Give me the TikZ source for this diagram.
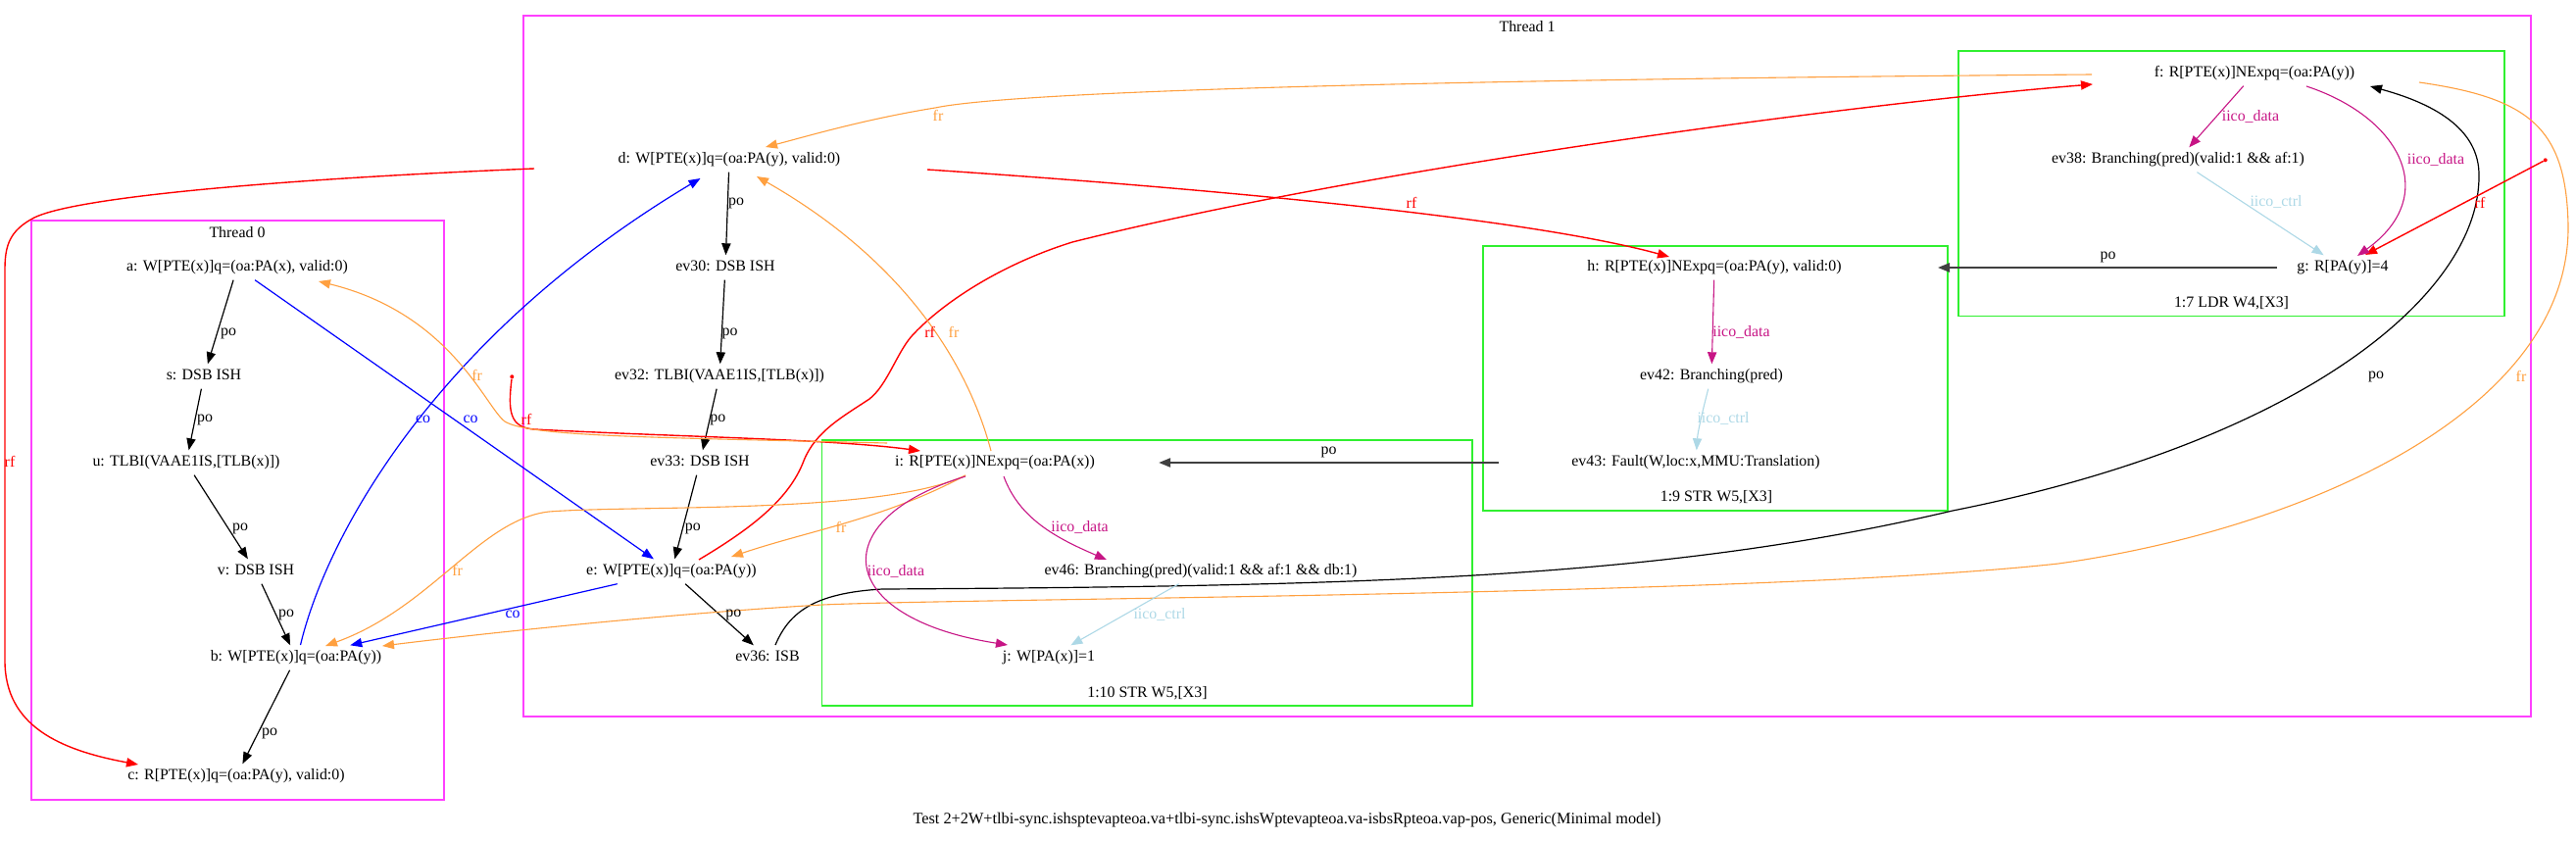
\documentclass[tikz,border=0pt]{standalone}
\usepackage{fontspec}
\setmainfont{Liberation Serif}
\usetikzlibrary{arrows.meta,calc}
\definecolor{tmag}{HTML}{FF40FF}
\definecolor{tgreen}{HTML}{30F030}
\definecolor{fro}{HTML}{FFA040}
\definecolor{idata}{HTML}{C71585}
\definecolor{ictrl}{HTML}{ADD8E6}
\tikzset{
  ev/.style={inner xsep=2pt, inner ysep=0pt, text height=5.4pt, text depth=1.6pt, minimum height=12.3pt},
  lbl/.style={inner sep=0pt},
  tbox/.style={draw=tmag, line width=0.8pt},
  gbox/.style={draw=tgreen, line width=0.8pt},
  tip/.style={-{Triangle[length=6pt,width=4.6pt]}},
  epo/.style={tip, draw=black, line width=0.6pt},
  epobold/.style={tip, draw=black!75, line width=0.95pt},
  erf/.style={tip, draw=red, line width=0.7pt},
  eco/.style={tip, draw=blue, line width=0.6pt},
  efr/.style={tip, draw=fro, line width=0.55pt},
  edata/.style={tip, draw=idata, line width=0.55pt},
  ectrl/.style={tip, draw=ictrl, line width=0.55pt},
  dotn/.style={circle, fill=red, inner sep=0pt, minimum size=2pt}
}
\begin{document}
\begin{tikzpicture}[x=0.5pt,y=-0.5pt,font=\fontsize{7.95}{9}\selectfont]
\useasboundingbox (0,0) rectangle (2628,857);
% clusters
\draw[tbox] (32,225) rectangle (453,816);
\node[lbl] (T0) at (242,237) {Thread 0};
\draw[tbox] (534,16) rectangle (2582,731);
\node[lbl] (T1) at (1558,27.5) {Thread 1};
\draw[gbox] (1998,52) rectangle (2555,322.5);
\node[lbl] (B7) at (2276.5,309) {1:7 LDR W4,[X3]};
\draw[gbox] (1513,251) rectangle (1987,521);
\node[lbl] (B9) at (1751,507) {1:9 STR W5,[X3]};
\draw[gbox] (838.5,449) rectangle (1502,720);
\node[lbl] (B10) at (1170.5,707) {1:10 STR W5,[X3]};
% thread 0 nodes
\node[ev] (a) at (242,273) {a: W[PTE(x)]q=(oa:PA(x), valid:0)};
\node[ev] (s) at (208,384) {s: DSB ISH};
\node[ev] (u) at (190,472) {u: TLBI(VAAE1IS,[TLB(x)])};
\node[ev] (v) at (261,583) {v: DSB ISH};
\node[ev] (b) at (302,671) {b: W[PTE(x)]q=(oa:PA(y))};
\node[ev] (c) at (241,792) {c: R[PTE(x)]q=(oa:PA(y), valid:0)};
% thread 1 nodes
\node[ev] (d) at (744,163) {d: W[PTE(x)]q=(oa:PA(y), valid:0)};
\node[ev] (ev30) at (740,273) {ev30: DSB ISH};
\node[ev] (ev32) at (734,384) {ev32: TLBI(VAAE1IS,[TLB(x)])};
\node[ev] (ev33) at (714,472) {ev33: DSB ISH};
\node[ev] (e) at (685,583) {e: W[PTE(x)]q=(oa:PA(y))};
\node[ev] (ev36) at (783,671) {ev36: ISB};
\node[ev] (i) at (1015,472) {i: R[PTE(x)]NExpq=(oa:PA(x))};
\node[ev] (ev46) at (1225,583) {ev46: Branching(pred)(valid:1 \&\& af:1 \&\& db:1)};
\node[ev] (j) at (1070,671) {j: W[PA(x)]=1};
\node[ev] (h) at (1749,273) {h: R[PTE(x)]NExpq=(oa:PA(y), valid:0)};
\node[ev] (ev42) at (1746,384) {ev42: Branching(pred)};
\node[ev] (ev43) at (1730,472) {ev43: Fault(W,loc:x,MMU:Translation)};
\node[ev] (f) at (2300,75) {f: R[PTE(x)]NExpq=(oa:PA(y))};
\node[ev] (ev38) at (2222,163) {ev38: Branching(pred)(valid:1 \&\& af:1)};
\node[ev] (g) at (2390,273) {g: R[PA(y)]=4};
\node[dotn] (dot1) at (522.3,384.3) {};
\node[dotn] (dot2) at (2596.7,163.3) {};
% thread 0 po
\draw[epo] (a) -- (s);
\draw[epo] (s) -- (u);
\draw[epo] (u) -- (v);
\draw[epo] (v) -- (b);
\draw[epo] (b) -- (c);
% thread 1 po
\draw[epo] (d) -- (ev30);
\draw[epo] (ev30) -- (ev32);
\draw[epo] (ev32) -- (ev33);
\draw[epo] (ev33) -- (e);
\draw[epo] (e) -- (ev36);
\draw[epobold] ([xshift=-8pt]g.west) -- ([xshift=47pt]h.east);
\draw[epobold] ([xshift=-35pt]ev43.west) -- ([xshift=30.5pt]i.east);
\draw[epo] ($(ev36)+(8,-13)$) .. controls (805,625) and (830,605) .. (900,601)
  .. controls (1400,598) and (1700,590) .. (1992,521)
  .. controls (2350,450) and (2529,300) .. (2529,180)
  .. controls (2530,130) and (2480,105) .. ($(f)+(118,13)$);
% rf
\draw[erf] ($(d)+(-199,9)$) .. controls (300,182) and (80,200) .. (35,222)
  .. controls (10,235) and (5,250) .. (5,275) -- (5,674)
  .. controls (5,740) and (60,765) .. ($(c)+(-100,-12)$);
\draw[erf] ($(d)+(202,10)$) .. controls (1200,190) and (1550,220) .. ($(h)+(-46,-11)$);
\draw[erf] ($(e)+(28,-12)$) .. controls (765,540) and (805,510) .. (820,470)
  .. controls (832,440) and (860,425) .. (887,407)
  .. controls (905,393) and (915,360) .. (930,343)
  .. controls (960,310) and (1020,270) .. (1094,247)
  .. controls (1400,170) and (1900,105) .. ($(f)+(-165,11)$);
\draw[erf] (dot1) .. controls (518,420) and (520,436) .. (545,438)
  .. controls (700,446) and (850,448) .. ($(i)+(-76,-12)$);
\draw[erf] (dot2) -- ($(g)+(23,-13)$);
% co
\draw[eco] (a) -- (e);
\draw[eco] ($(b)+(4.5,-13)$) .. controls (335,540) and (450,340) .. ($(d)+(-29.5,19)$);
\draw[eco] (e) -- (b);
% fr
\draw[efr] ($(i)+(-110,-20)$) .. controls (650,446) and (540,445) .. (515,430)
  .. controls (495,415) and (460,320) .. ($(a)+(83,14)$);
\draw[efr] ($(i)+(-30,13)$) .. controls (900,525) and (650,515) .. (560,522)
  .. controls (490,530) and (440,620) .. ($(b)+(30,-12)$);
\draw[efr] ($(i)+(-30,13)$) .. controls (900,530) and (830,540) .. ($(e)+(61,-15)$);
\draw[efr] ($(f)+(168,9)$) .. controls (2580,100) and (2618,130) .. (2620,230)
  .. controls (2622,420) and (2350,540) .. (2100,575)
  .. controls (1800,608) and (1000,610) .. (839,617)
  .. controls (700,625) and (520,643) .. ($(b)+(88,-12)$);
\draw[efr] ($(f)+(-166,1)$) .. controls (1600,80) and (1050,90) .. (954,110)
  .. controls (880,122) and (820,140) .. ($(d)+(37,-13)$);
\draw[efr] ($(i)+(-4,-12)$) .. controls (990,380) and (930,270) .. ($(d)+(28,17)$);
% iico
\draw[edata] (f) -- (ev38);
\draw[edata] ($(f)+(53,13)$) .. controls (2450,120) and (2490,200) .. ($(g)+(15,-12)$);
\draw[ectrl] (ev38) -- (g);
\draw[edata] (h) -- (ev42);
\draw[ectrl] (ev42) .. controls (1738,415) and (1732,440) .. (ev43);
\draw[edata] ($(i)+(9,14)$) .. controls (1040,530) and (1080,550) .. ($(ev46)+(-96,-12)$);
\draw[edata] ($(i)+(-30,14)$) .. controls (840,530) and (850,630) .. ($(j)+(-42,-13)$);
\draw[ectrl] (ev46) -- (j);
% labels
\node[lbl] (L1) at (233,340) {po};
\node[lbl] (L2) at (209,428) {po};
\node[lbl] (L3) at (245,539) {po};
\node[lbl] (L4) at (292,627) {po};
\node[lbl] (L5) at (275,748) {po};
\node[lbl] (L6) at (751,207) {po};
\node[lbl] (L7) at (744.5,340) {po};
\node[lbl] (L8) at (732.4,428) {po};
\node[lbl] (L9) at (706.9,539) {po};
\node[lbl] (L10) at (748.3,627) {po};
\node[lbl] (L11) at (2150.6,262.5) {po};
\node[lbl] (L12) at (1355.5,461) {po};
\node[lbl] (L13) at (2424,384) {po};
\node[lbl,text=red] (L14) at (10,471) {rf};
\node[lbl,text=red] (L15) at (1440,207) {rf};
\node[lbl,text=red] (L16) at (948.6,339) {rf};
\node[lbl,text=red] (L17) at (537,428) {rf};
\node[lbl,text=red] (L18) at (2530,207) {rf};
\node[lbl,text=blue] (L19) at (480,428) {co};
\node[lbl,text=blue] (L20) at (431.5,428) {co};
\node[lbl,text=blue] (L21) at (523,627) {co};
\node[lbl,text=fro] (L22) at (486.6,383) {fr};
\node[lbl,text=fro] (L23) at (466.6,582) {fr};
\node[lbl,text=fro] (L24) at (858,538) {fr};
\node[lbl,text=fro] (L25) at (2572,384) {fr};
\node[lbl,text=fro] (L26) at (957,118) {fr};
\node[lbl,text=fro] (L27) at (973,339) {fr};
\node[lbl,text=idata] (L28) at (2296,119) {iico\_data};
\node[lbl,text=idata] (L29) at (2485,163) {iico\_data};
\node[lbl,text=ictrl] (L30) at (2322,206) {iico\_ctrl};
\node[lbl,text=idata] (L31) at (1776.5,339) {iico\_data};
\node[lbl,text=ictrl] (L32) at (1758,427.5) {iico\_ctrl};
\node[lbl,text=idata] (L33) at (1101.6,538) {iico\_data};
\node[lbl,text=idata] (L34) at (914,583) {iico\_data};
\node[lbl,text=ictrl] (L35) at (1183,627) {iico\_ctrl};
\node[lbl,font=\fontsize{8.15}{10}\selectfont] (title) at (1313,837) {Test 2+2W+tlbi-sync.ishsptevapteoa.va+tlbi-sync.ishsWptevapteoa.va-isbsRpteoa.vap-pos, Generic(Minimal model)};
\end{tikzpicture}
\end{document}
